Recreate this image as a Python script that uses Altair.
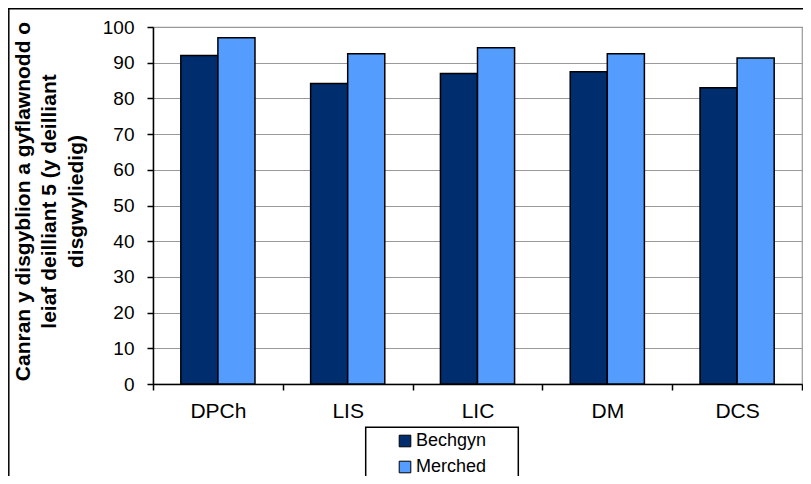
import altair as alt
import pandas as pd

categories = ["DPCh", "LIS", "LIC", "DM", "DCS"]
series = ["Bechgyn", "Merched"]
bechgyn = [92.0, 84.2, 87.0, 87.5, 83.0]
merched = [97.0, 92.5, 94.2, 92.5, 91.3]
y_ticks = [0, 10, 20, 30, 40, 50, 60, 70, 80, 90, 100]
y_title = ["Canran y disgyblion a gyflawnodd o",
           "leiaf deilliant 5 (y deilliant",
           "disgwyliedig)"]
colors = ["#002D6E", "#559CFF"]

rows = []
for c, b, m in zip(categories, bechgyn, merched):
    rows.append({"cat": c, "series": series[0], "value": b})
    rows.append({"cat": c, "series": series[1], "value": m})
df = pd.DataFrame(rows)

W, H = 649, 357
FONT = "Liberation Sans"

bars = alt.Chart(df).mark_bar(stroke="black", strokeWidth=1.5).encode(
    x=alt.X("cat:N", sort=categories,
            scale=alt.Scale(paddingInner=0, paddingOuter=0),
            axis=alt.Axis(title=None, labelAngle=0, tickBand="extent",
                          labelFont=FONT, labelFontSize=21, labelColor="black",
                          labelPadding=10, tickSize=6, tickColor="black",
                          tickWidth=1.5, domainColor="black", domainWidth=1.5,
                          grid=False)),
    xOffset=alt.XOffset("series:N", sort=series,
                        scale=alt.Scale(paddingInner=0, paddingOuter=0.75)),
    y=alt.Y("value:Q", scale=alt.Scale(domain=[0, 100], nice=False),
            axis=alt.Axis(values=y_ticks, title=y_title,
                          titleFont=FONT, titleFontSize=21, titleFontWeight="bold",
                          titleColor="black", titleAngle=270, titleAlign="center",
                          titleBaseline="alphabetic", titleLineHeight=26.5,
                          titleX=-124, titleY=174,
                          labelFont=FONT, labelFontSize=19, labelColor="black",
                          labelPadding=13, tickSize=6, tickColor="black",
                          tickWidth=1.5, domainColor="black", domainWidth=1.5,
                          grid=True, gridColor="#999999", gridWidth=1.2)),
    color=alt.Color("series:N", sort=series,
                    scale=alt.Scale(domain=series, range=colors),
                    legend=alt.Legend(title=None, orient="none",
                                      legendX=243, legendY=405,
                                      symbolType="square", symbolSize=135,
                                      symbolStrokeColor="black", symbolStrokeWidth=1,
                                      labelFont=FONT, labelFontSize=18,
                                      labelColor="black", labelOffset=2,
                                      rowPadding=8, padding=0)),
)

legend_box = alt.Chart(pd.DataFrame({"k": [0]})).mark_rect(
    fill=None, stroke="black", strokeWidth=1.5
).encode(
    x=alt.value(212.7), x2=alt.value(365.3),
    y=alt.value(400.3), y2=alt.value(453.7),
)

frame_left = alt.Chart(pd.DataFrame({"k": [0]})).mark_rule(
    color="black", strokeWidth=1.5
).encode(x=alt.value(-144.2), y=alt.value(-19), y2=alt.value(H + 92))

frame_top = alt.Chart(pd.DataFrame({"k": [0]})).mark_rule(
    color="black", strokeWidth=1.5
).encode(y=alt.value(-18.2), x=alt.value(-145), x2=alt.value(W + 1))

chart = alt.layer(bars, legend_box, frame_left, frame_top).properties(
    width=W, height=H,
    autosize=alt.AutoSizeParams(type="none"),
    padding={"left": 145, "top": 19, "right": 1, "bottom": 92},
    background="white",
).configure_view(stroke="#999999", strokeWidth=1.2)

chart.save("out.html", embed_options={"renderer": "svg", "actions": False})
